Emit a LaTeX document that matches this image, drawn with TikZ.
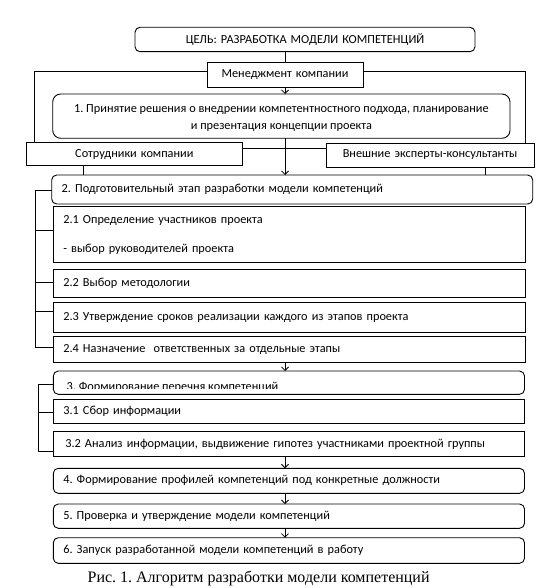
\documentclass[tikz,border=0pt]{standalone}
\usepackage{fontspec}
\setmainfont{Carlito}
\newfontfamily\capfont{Liberation Serif}
\usetikzlibrary{arrows.meta}
\frenchspacing
% #1 style, #2 name, #3 x1, #4 y1, #5 x2, #6 y2, #7 text
\newcommand\bx[7]{%
  \pgfmathsetmacro\bxw{#5-#3}%
  \pgfmathsetmacro\bxh{#6-#4}%
  \pgfmathsetmacro\bxt{#5-#3-20}%
  \node[#1, anchor=north west, minimum width=\bxw pt, minimum height=\bxh pt, text width=\bxt pt] (#2) at (#3,#4) {#7};}
\begin{document}
\begin{tikzpicture}[x=1pt,y=-1pt,
  every node/.style={font=\frenchspacing\fontsize{12.3}{14}\selectfont, inner sep=0pt, outer sep=0pt},
  sq/.style={draw=black, line width=0.9pt, align=left, inner xsep=10pt},
  rnd/.style={sq, rounded corners=5pt},
  ctr/.style={draw=black, line width=0.9pt, align=center, inner xsep=10pt},
  conn/.style={line width=0.8pt},
  arr/.style={conn, -{Straight Barb[length=3.5pt,width=7pt]}}]
\useasboundingbox (0,0) rectangle (542,588);

\bx{ctr, rounded corners=5pt}{goal}{135}{27.3}{475}{51.7}{ЦЕЛЬ: РАЗРАБОТКА МОДЕЛИ КОМПЕТЕНЦИЙ}
\bx{ctr}{mgmt}{207}{62.5}{363}{87.5}{Менеджмент компании}
\bx{ctr, rounded corners=8pt}{b1}{52.7}{94}{510}{138.3}{}
\begin{scope}
  \clip (52.7,94) rectangle (510,130.8);
  \node[anchor=base, align=center, font=\frenchspacing\fontsize{12.3}{17}\selectfont] (b1t) at (281.4,130)
    {1. Принятие решения о внедрении компетентностного подхода, планирование\\и презентация концепции проекта};
\end{scope}
\bx{ctr}{sotr}{26.7}{142.7}{242}{165.7}{Сотрудники компании}
\bx{ctr}{ext}{326}{143}{534}{167}{Внешние эксперты-консультанты}
\bx{rnd}{b2}{51.7}{175}{532.7}{204}{2. Подготовительный этап разработки модели компетенций}
\bx{sq}{b21}{53.3}{206.7}{525}{262.7}{2.1 Определение участников проекта\\[15pt]- выбор руководителей проекта}
\bx{sq}{b22}{53.3}{269.3}{525}{297.7}{2.2 Выбор методологии}
\bx{sq}{b23}{53.3}{302.7}{525}{332.3}{2.3 Утверждение сроков реализации каждого из этапов проекта}
\bx{sq}{b24}{53.3}{336.7}{525}{362.7}{2.4 Назначение~ ответственных за отдельные этапы}
\bx{rnd}{b3}{53.3}{371}{524.5}{394.3}{}
\begin{scope}
  \clip (53.3,371) rectangle (524.5,388.5);
  \node[anchor=base west] (b3t) at (66.7,390.5) {3. Формирование перечня компетенций};
\end{scope}
\bx{sq}{b31}{53.3}{399}{524.5}{423.3}{3.1 Сбор информации}
\bx{sq}{b32}{53.3}{431.7}{524.5}{456.7}{\hspace{2pt}3.2 Анализ информации, выдвижение гипотез участниками проектной группы}
\bx{rnd}{b4}{53.3}{468.3}{524.5}{493.3}{4. Формирование профилей компетенций под конкретные должности}
\bx{rnd}{b5}{53.3}{504}{524.5}{528.3}{5. Проверка и утверждение модели компетенций}
\bx{rnd}{b6}{53.3}{537.7}{524.5}{563.3}{6. Запуск разработанной модели компетенций в работу}

\node[font=\capfont\fontsize{16}{18}\selectfont] (cap) at (258.6,578.3) {Рис. 1. Алгоритм разработки модели компетенций};

% connectors
\draw[conn] (goal.south -| mgmt.north) -- (mgmt.north);
\draw[arr] (mgmt.south) -- (mgmt.south |- b1.north);
\draw[arr] (mgmt.south |- b1.south) -- (mgmt.south |- b2.north);
\draw[conn] ([yshift=6pt]sotr.east) -- ([yshift=6pt]sotr.east -| ext.west);
\draw[conn] ([xshift=-51.2pt]sotr.south) -- ([xshift=-51.2pt]sotr.south |- b2.north);
\draw[conn] ([xshift=55pt]ext.south) -- ([xshift=55pt]ext.south |- b2.north);
\draw[conn] ([yshift=4pt]mgmt.west) -| ([xshift=-99.5pt]sotr.north);
\draw[conn] ([yshift=4pt]mgmt.east) -| ([xshift=95pt]ext.north);
% bracket 2
\draw[conn] ([yshift=-1.2pt]b2.west) -- ++(-16.7,0) |- ([yshift=2pt]b24.west);
\draw[conn] ([yshift=4.7pt]b21.west) -- +(-18.3,0);
\draw[conn] ([yshift=1.2pt]b22.west) -- +(-18.3,0);
\draw[conn] ([yshift=5.8pt]b23.west) -- +(-18.3,0);
% bracket 3
\draw[conn] ([yshift=-1.4pt]b3.west) -- ++(-15,0) |- ([yshift=-7.5pt]b32.west);
\draw[conn] ([yshift=-1.5pt]b31.west) -- +(-15,0);
% main flow
\draw[arr] (mgmt.south |- b24.south) -- (mgmt.south |- b3.north);
\draw[arr] (mgmt.south |- b32.south) -- (mgmt.south |- b4.north);
\draw[arr] (mgmt.south |- b4.south) -- (mgmt.south |- b5.north);
\draw[arr] (mgmt.south |- b5.south) -- (mgmt.south |- b6.north);
\end{tikzpicture}
\end{document}
